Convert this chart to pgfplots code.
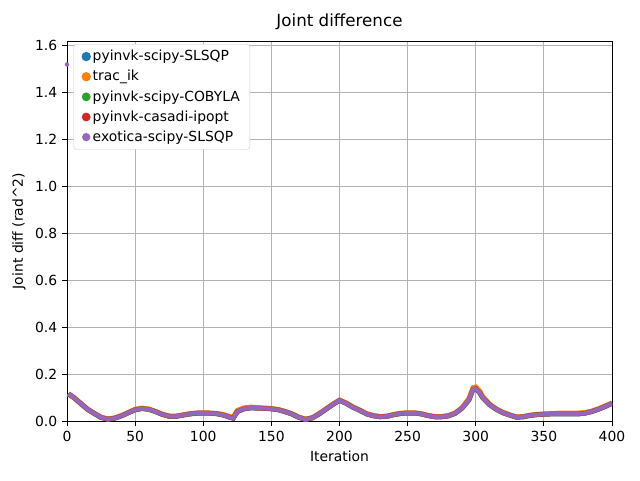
\documentclass[border=0pt]{standalone}
\usepackage{pgfplots}
\pgfplotsset{compat=1.18}
\usepackage{pgfplotstable}
\usepackage{fontspec}
\setmainfont{DejaVu Sans}
\definecolor{c1}{HTML}{1F77B4}
\definecolor{c2}{HTML}{FF7F0E}
\definecolor{c3}{HTML}{2CA02C}
\definecolor{c4}{HTML}{D62728}
\definecolor{c5}{HTML}{9467BD}
\pgfplotstableread{
x a b
1 .115 .117
5 .10 .10
10 .075 .076
15 .05 .051
20 .032 .033
25 .015 .016
30 .008 .009
35 .012 .013
40 .022 .023
45 .035 .036
50 .048 .050
55 .053 .055
60 .05 .051
65 .04 .041
70 .028 .029
75 .02 .021
80 .02 .021
85 .025 .026
90 .03 .031
95 .033 .034
100 .034 .035
105 .033 .034
110 .031 .032
115 .025 .027
120 .015 .018
122 .012 .016
125 .04 .045
130 .052 .056
135 .056 .059
140 .055 .057
145 .054 .055
150 .052 .053
155 .048 .049
160 .04 .041
165 .03 .031
170 .016 .017
175 .007 .008
180 .013 .014
185 .03 .031
190 .05 .051
195 .07 .071
200 .088 .089
205 .075 .077
210 .058 .060
215 .045 .046
220 .03 .031
225 .022 .023
230 .018 .019
235 .02 .021
240 .027 .028
245 .032 .033
250 .034 .035
255 .034 .035
260 .03 .031
265 .023 .024
270 .018 .019
275 .018 .019
280 .022 .023
285 .033 .034
290 .055 .057
295 .09 .095
298 .135 .142
300 .138 .145
303 .12 .127
305 .1 .105
310 .07 .073
315 .05 .052
320 .035 .037
325 .025 .026
330 .016 .017
335 .018 .019
340 .024 .025
345 .027 .028
350 .029 .030
355 .03 .031
360 .03 .033
365 .03 .034
370 .03 .034
375 .03 .034
380 .033 .036
385 .04 .042
390 .05 .052
395 .062 .064
400 .075 .077
}\data
\begin{document}
\fontsize{13.9}{16}\selectfont
\begin{tikzpicture}[x=1pt,y=1pt]
\begin{axis}[name=ax, scale only axis, width=545pt, height=380pt,
 xmin=0, xmax=400, ymin=0, ymax=1.62,
 xtick={0,50,...,400}, ytick={0,0.2,...,1.6},
 yticklabel style={/pgf/number format/.cd,fixed,fixed zerofill,precision=1},
 /pgf/number format/assume math mode=true,
 ticklabel style={font=\fontsize{13.9}{16}\selectfont},
 label style={font=\fontsize{13.9}{16}\selectfont},
 grid=major, grid style={gray!60, line width=0.8pt},
 tick align=outside, tick pos=left, tick style={black, line width=0.8pt}, major tick length=5pt,
 axis line style={line width=0.8pt},
 xlabel={Iteration}, ylabel={Joint diff (rad\^{}2)},
 title={Joint difference}, title style={font=\fontsize{16.7}{19}\selectfont},
 legend style={at={(0.012,0.992)}, anchor=north west, draw=gray!40, rounded corners=3pt,
   font=\fontsize{13.9}{16}\selectfont, row sep=3.5pt, inner xsep=8pt, inner ysep=4pt},
 legend cell align=left,
 legend image code/.code={\fill[#1] (0.55cm,0) circle (2pt);},
]
\addplot[c1, line width=5pt] table[x=x,y=a]{\data};
\addlegendentry{pyinvk-scipy-SLSQP}
\addplot[c2, line width=5pt] table[x=x,y=b]{\data};
\addlegendentry{trac\_ik}
\addplot[c3, line width=4.5pt] table[x=x,y=a]{\data};
\addlegendentry{pyinvk-scipy-COBYLA}
\addplot[c4, line width=4.5pt] table[x=x,y=a]{\data};
\addlegendentry{pyinvk-casadi-ipopt}
\addplot[c5, line width=4pt] table[x=x,y=a]{\data};
\addlegendentry{exotica-scipy-SLSQP}
\addplot[only marks, mark=*, mark size=2pt, c5, forget plot] coordinates {(0,1.52)};
\end{axis}
\useasboundingbox (ax.south west) ++(-67pt,-59pt) rectangle ++(640pt,480pt);
\end{tikzpicture}
\end{document}
